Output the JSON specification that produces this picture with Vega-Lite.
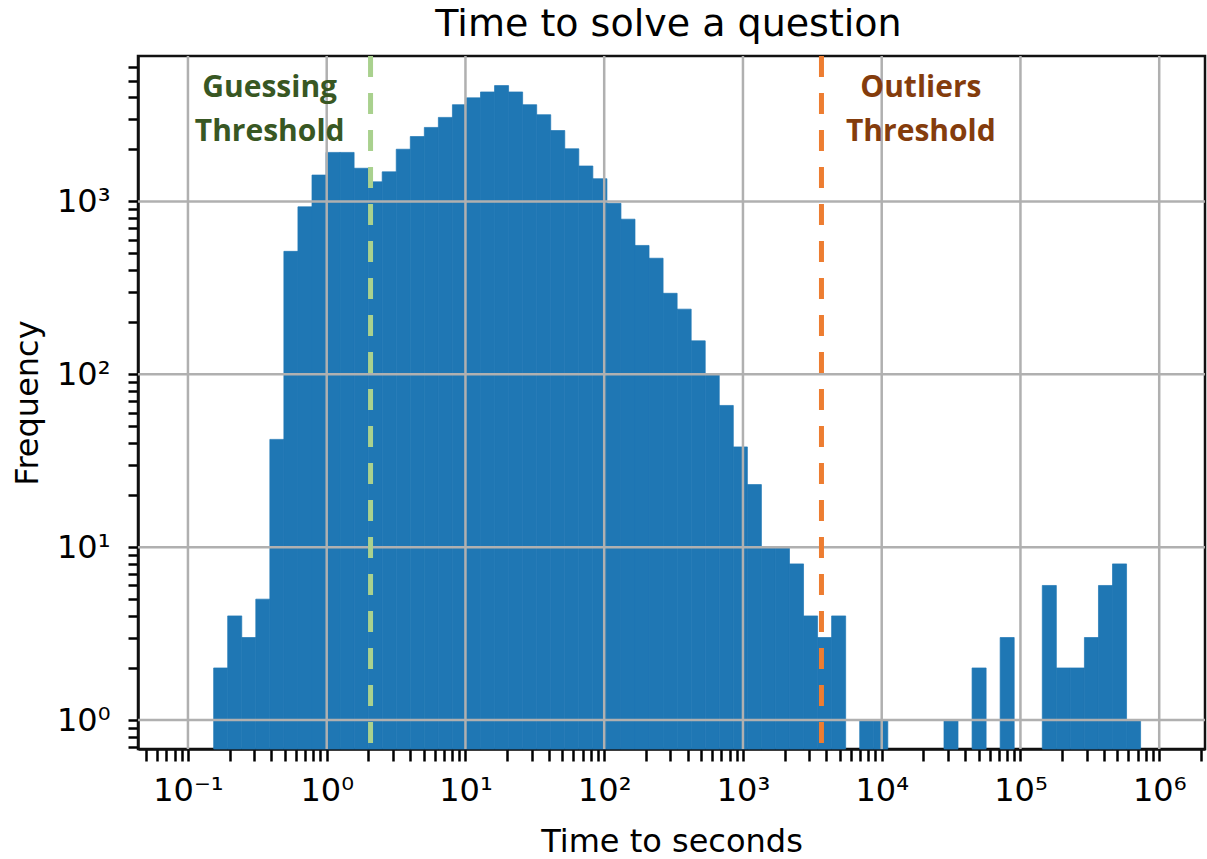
{
  "$schema": "https://vega.github.io/schema/vega-lite/v6.json",
  "width": 1067,
  "height": 693,
  "autosize": {"type": "none"},
  "padding": {"left": 138, "top": 56, "right": 2, "bottom": 110},
  "background": "white",
  "config": {
    "view": {"stroke": "#111", "strokeWidth": 2.5},
    "font": "DejaVu Sans"
  },
  "title": {
    "text": "Time to solve a question",
    "font": "DejaVu Sans",
    "fontSize": 38,
    "fontWeight": "normal",
    "color": "#000",
    "anchor": "middle",
    "offset": 7,
    "dx": -3
  },
  "datasets": {
    "hist": [
      {"x0": 0.1532, "x1": 0.1934, "n": 2},
      {"x0": 0.1934, "x1": 0.2442, "n": 4},
      {"x0": 0.2442, "x1": 0.3083, "n": 3},
      {"x0": 0.3083, "x1": 0.3893, "n": 5},
      {"x0": 0.3893, "x1": 0.4914, "n": 42},
      {"x0": 0.4914, "x1": 0.6204, "n": 514},
      {"x0": 0.6204, "x1": 0.7833, "n": 930},
      {"x0": 0.7833, "x1": 0.9887, "n": 1420},
      {"x0": 0.9887, "x1": 1.2482, "n": 1920},
      {"x0": 1.2482, "x1": 1.5758, "n": 1920},
      {"x0": 1.5758, "x1": 1.9894, "n": 1555},
      {"x0": 1.9894, "x1": 2.5113, "n": 1297},
      {"x0": 2.5113, "x1": 3.171, "n": 1482},
      {"x0": 3.171, "x1": 4.0036, "n": 2003},
      {"x0": 4.0036, "x1": 5.0536, "n": 2372},
      {"x0": 5.0536, "x1": 6.38, "n": 2678},
      {"x0": 6.38, "x1": 8.0538, "n": 3061},
      {"x0": 8.0538, "x1": 10.169, "n": 3625},
      {"x0": 10.169, "x1": 12.838, "n": 3970},
      {"x0": 12.838, "x1": 16.207, "n": 4295},
      {"x0": 16.207, "x1": 20.46, "n": 4674},
      {"x0": 20.46, "x1": 25.83, "n": 4295},
      {"x0": 25.83, "x1": 32.61, "n": 3625},
      {"x0": 32.61, "x1": 41.17, "n": 3172},
      {"x0": 41.17, "x1": 51.98, "n": 2569},
      {"x0": 51.98, "x1": 65.61, "n": 2015},
      {"x0": 65.61, "x1": 82.83, "n": 1602},
      {"x0": 82.83, "x1": 104.59, "n": 1352},
      {"x0": 104.59, "x1": 132.04, "n": 975},
      {"x0": 132.04, "x1": 166.69, "n": 789},
      {"x0": 166.69, "x1": 210.43, "n": 556},
      {"x0": 210.43, "x1": 265.65, "n": 469},
      {"x0": 265.65, "x1": 335.44, "n": 294},
      {"x0": 335.44, "x1": 423.46, "n": 238},
      {"x0": 423.46, "x1": 534.58, "n": 156},
      {"x0": 534.58, "x1": 674.86, "n": 100},
      {"x0": 674.86, "x1": 851.95, "n": 66},
      {"x0": 851.95, "x1": 1075.8, "n": 38},
      {"x0": 1075.8, "x1": 1358.0, "n": 23},
      {"x0": 1358.0, "x1": 1714.4, "n": 10},
      {"x0": 1714.4, "x1": 2164.3, "n": 10},
      {"x0": 2164.3, "x1": 2732.2, "n": 8},
      {"x0": 2732.2, "x1": 3450, "n": 4},
      {"x0": 3450, "x1": 4355, "n": 3},
      {"x0": 4355, "x1": 5498, "n": 4},
      {"x0": 6941, "x1": 8762, "n": 1},
      {"x0": 8762, "x1": 11064, "n": 1},
      {"x0": 28102, "x1": 35481, "n": 1},
      {"x0": 44795, "x1": 56550, "n": 2},
      {"x0": 71389, "x1": 90122, "n": 3},
      {"x0": 143660, "x1": 181370, "n": 6},
      {"x0": 181370, "x1": 228960, "n": 2},
      {"x0": 228960, "x1": 289040, "n": 2},
      {"x0": 289040, "x1": 364970, "n": 3},
      {"x0": 364970, "x1": 460740, "n": 6},
      {"x0": 460740, "x1": 581640, "n": 8},
      {"x0": 581640, "x1": 734270, "n": 1}
    ],
    "xgrid": [
      {"v": 0.1}, {"v": 1}, {"v": 10}, {"v": 100}, {"v": 1000}, {"v": 10000}, {"v": 100000}, {"v": 1000000}
    ],
    "ygrid": [
      {"v": 1}, {"v": 10}, {"v": 100}, {"v": 1000}
    ],
    "thresholds": [
      {"t": 2.07, "kind": "guess"},
      {"t": 3680, "kind": "outlier"}
    ],
    "notes": [
      {"label": "Guessing", "x": 0.388, "y": 4000, "kind": "guess"},
      {"label": "Threshold", "x": 0.388, "y": 2249, "kind": "guess"},
      {"label": "Outliers", "x": 19150, "y": 4000, "kind": "outlier"},
      {"label": "Threshold", "x": 19150, "y": 2249, "kind": "outlier"}
    ]
  },
  "resolve": {"scale": {"color": "independent"}},
  "layer": [
    {
      "data": {"name": "hist"},
      "mark": {"type": "bar", "color": "#1f77b4", "stroke": "#1f77b4", "strokeWidth": 0.7},
      "encoding": {
        "x": {
          "field": "x0",
          "type": "quantitative",
          "title": "Time to seconds",
          "scale": {"type": "log", "domain": [0.04365, 2138000], "nice": false},
          "axis": {
            "values": [0.05, 0.06, 0.07, 0.08, 0.09, 0.1, 0.2, 0.3, 0.4, 0.5, 0.6, 0.7, 0.8, 0.9, 1, 2, 3, 4, 5, 6, 7, 8, 9, 10, 20, 30, 40, 50, 60, 70, 80, 90, 100, 200, 300, 400, 500, 600, 700, 800, 900, 1000, 2000, 3000, 4000, 5000, 6000, 7000, 8000, 9000, 10000, 20000, 30000, 40000, 50000, 60000, 70000, 80000, 90000, 100000, 200000, 300000, 400000, 500000, 600000, 700000, 800000, 900000, 1000000, 2000000],
            "labelExpr": "datum.value == 0.1 ? '10⁻¹' : datum.value == 1 ? '10⁰' : datum.value == 10 ? '10¹' : datum.value == 100 ? '10²' : datum.value == 1000 ? '10³' : datum.value == 10000 ? '10⁴' : datum.value == 100000 ? '10⁵' : datum.value == 1000000 ? '10⁶' : ''",
            "labelFont": "DejaVu Sans",
            "labelFontSize": 32,
            "labelColor": "#000",
            "labelPadding": 14,
            "labelOverlap": false,
            "labelFlush": false,
            "tickColor": "#000",
            "tickSize": 12,
            "tickWidth": 2.5,
            "domainColor": "#111",
            "domainWidth": 2.5,
            "grid": false,
            "titleFont": "DejaVu Sans",
            "titleFontSize": 32,
            "titleFontWeight": "normal",
            "titleColor": "#000",
            "titlePadding": 20,
            "encode": {
              "ticks": {
                "update": {
                  "y2": {"signal": "(datum.value == 0.1 || datum.value == 1 || datum.value == 10 || datum.value == 100 || datum.value == 1000 || datum.value == 10000 || datum.value == 100000 || datum.value == 1000000) ? 12 : 6"},
                  "strokeWidth": {"signal": "(datum.value == 0.1 || datum.value == 1 || datum.value == 10 || datum.value == 100 || datum.value == 1000 || datum.value == 10000 || datum.value == 100000 || datum.value == 1000000) ? 2.5 : 1.8"}
                }
              }
            }
          }
        },
        "x2": {"field": "x1"},
        "y": {
          "field": "n",
          "type": "quantitative",
          "title": "Frequency",
          "scale": {"type": "log", "domain": [0.6796, 6934], "nice": false, "clamp": true},
          "axis": {
            "values": [0.7, 0.8, 0.9, 1, 2, 3, 4, 5, 6, 7, 8, 9, 10, 20, 30, 40, 50, 60, 70, 80, 90, 100, 200, 300, 400, 500, 600, 700, 800, 900, 1000, 2000, 3000, 4000, 5000, 6000],
            "labelExpr": "datum.value == 1 ? '10⁰' : datum.value == 10 ? '10¹' : datum.value == 100 ? '10²' : datum.value == 1000 ? '10³' : ''",
            "labelFont": "DejaVu Sans",
            "labelFontSize": 32,
            "labelColor": "#000",
            "labelPadding": 18,
            "labelOverlap": false,
            "labelFlush": false,
            "tickColor": "#000",
            "tickSize": 10,
            "tickWidth": 2.5,
            "domainColor": "#111",
            "domainWidth": 2.5,
            "grid": false,
            "titleFont": "DejaVu Sans",
            "titleFontSize": 32,
            "titleFontWeight": "normal",
            "titleColor": "#000",
            "titlePadding": 12,
            "encode": {
              "ticks": {
                "update": {
                  "x2": {"signal": "(datum.value == 1 || datum.value == 10 || datum.value == 100 || datum.value == 1000) ? -10 : -6"},
                  "strokeWidth": {"signal": "(datum.value == 1 || datum.value == 10 || datum.value == 100 || datum.value == 1000) ? 2.5 : 1.8"}
                }
              }
            }
          }
        },
        "y2": {"datum": 0.1}
      }
    },
    {
      "data": {"name": "xgrid"},
      "mark": {"type": "rule", "color": "#b0b0b0", "strokeWidth": 2.5},
      "encoding": {
        "x": {"field": "v", "type": "quantitative", "title": "Time to seconds"}
      }
    },
    {
      "data": {"name": "ygrid"},
      "mark": {"type": "rule", "color": "#b0b0b0", "strokeWidth": 2.5},
      "encoding": {
        "y": {"field": "v", "type": "quantitative", "title": "Frequency"}
      }
    },
    {
      "data": {"name": "thresholds"},
      "mark": {"type": "rule", "strokeWidth": 5, "strokeDash": [21, 16]},
      "encoding": {
        "x": {"field": "t", "type": "quantitative", "title": "Time to seconds"},
        "color": {"field": "kind", "type": "nominal", "scale": {"domain": ["guess", "outlier"], "range": ["#A9D18E", "#ED7D31"]}, "legend": null}
      }
    },
    {
      "data": {"name": "notes"},
      "mark": {"type": "text", "font": "Open Sans", "fontWeight": "bold", "fontSize": 30, "align": "center", "baseline": "alphabetic"},
      "encoding": {
        "x": {"field": "x", "type": "quantitative", "title": "Time to seconds"},
        "y": {"field": "y", "type": "quantitative", "title": "Frequency"},
        "text": {"field": "label"},
        "color": {"field": "kind", "type": "nominal", "scale": {"domain": ["guess", "outlier"], "range": ["#385723", "#843C0C"]}, "legend": null}
      }
    }
  ]
}
